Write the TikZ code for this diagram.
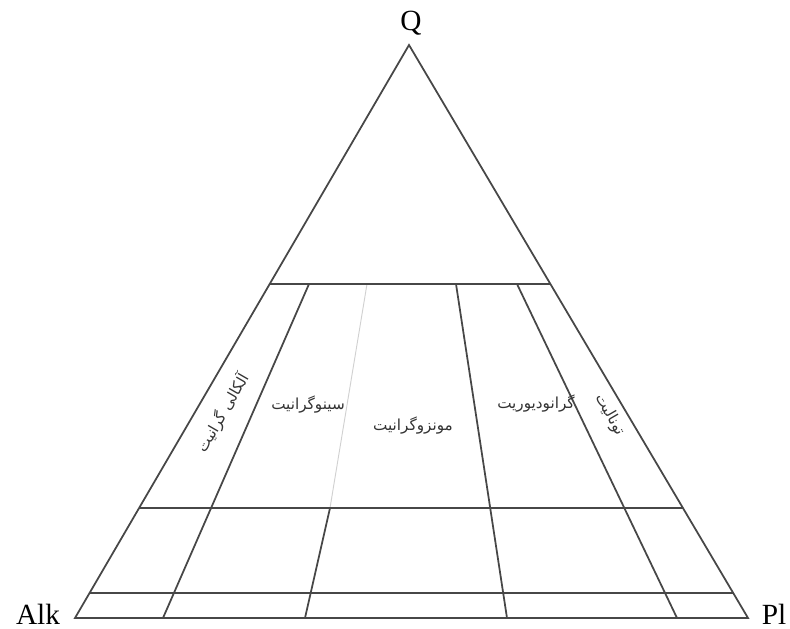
\documentclass[tikz,border=0pt]{standalone}
\usepackage{fontspec}
\setmainfont{Liberation Serif}
\newfontfamily\farsifont[Script=Arabic]{DejaVu Sans}
\TeXXeTstate=1
\usetikzlibrary{calc}
\tikzset{
  qap edge/.style={black!72,line width=1.5pt},
  qap faint/.style={black!18,line width=0.8pt},
  corner label/.style={font=\fontsize{25}{30}\selectfont,inner sep=0pt,anchor=base},
  field label/.style={font=\farsifont\fontsize{13}{15}\selectfont,inner sep=0pt,text=black!80}
}

\begin{document}
\begin{tikzpicture}[x=0.03cm,y=-0.03cm]
  \useasboundingbox (0,0) rectangle (790,629);
  \coordinate (q) at (409,45);
  \coordinate (a) at (75,618);
  \coordinate (p) at (748,618);
  % Q = 60, 20, 5
  \coordinate (a60) at ($(q)!0.417!(a)$);
  \coordinate (p60) at ($(q)!0.417!(p)$);
  \coordinate (a20) at ($(q)!0.808!(a)$);
  \coordinate (p20) at ($(q)!0.808!(p)$);
  \coordinate (a5) at ($(q)!0.956!(a)$);
  \coordinate (p5) at ($(q)!0.956!(p)$);
  % field borders
  \coordinate (t10) at (309,284);
  \coordinate (b10) at (163,618);
  \coordinate (t35) at (367,284);
  \coordinate (m35) at (330,508);
  \coordinate (b35) at (305,618);
  \coordinate (t65) at (456,284);
  \coordinate (b65) at (507,618);
  \coordinate (t90) at (517,284);
  \coordinate (b90) at (677,618);

  \draw[qap faint] (t35)--(m35);
  \draw[qap edge] (q)--(a)--(p)--cycle;
  \draw[qap edge] (a60)--(p60) (a20)--(p20) (a5)--(p5);
  \draw[qap edge] (t10)--(b10) (m35)--(b35) (t65)--(b65) (t90)--(b90);

  \node[corner label] (ql) at (411,31) {Q};
  \node[corner label] (al) at (38,624) {Alk};
  \node[corner label] (pl) at (774,624) {Pl};

  \node[field label,rotate=60] (afg) at (223,413) {\beginR آلکالی گرانیت\endR};
  \node[field label] (sg) at (308,405) {\beginR سینوگرانیت\endR};
  \node[field label] (mg) at (413,426) {\beginR مونزوگرانیت\endR};
  \node[field label] (gd) at (536,404) {\beginR گرانودیوریت\endR};
  \node[field label,rotate=-60] (tn) at (610,415) {\beginR تونالیت\endR};
\end{tikzpicture}
\end{document}
